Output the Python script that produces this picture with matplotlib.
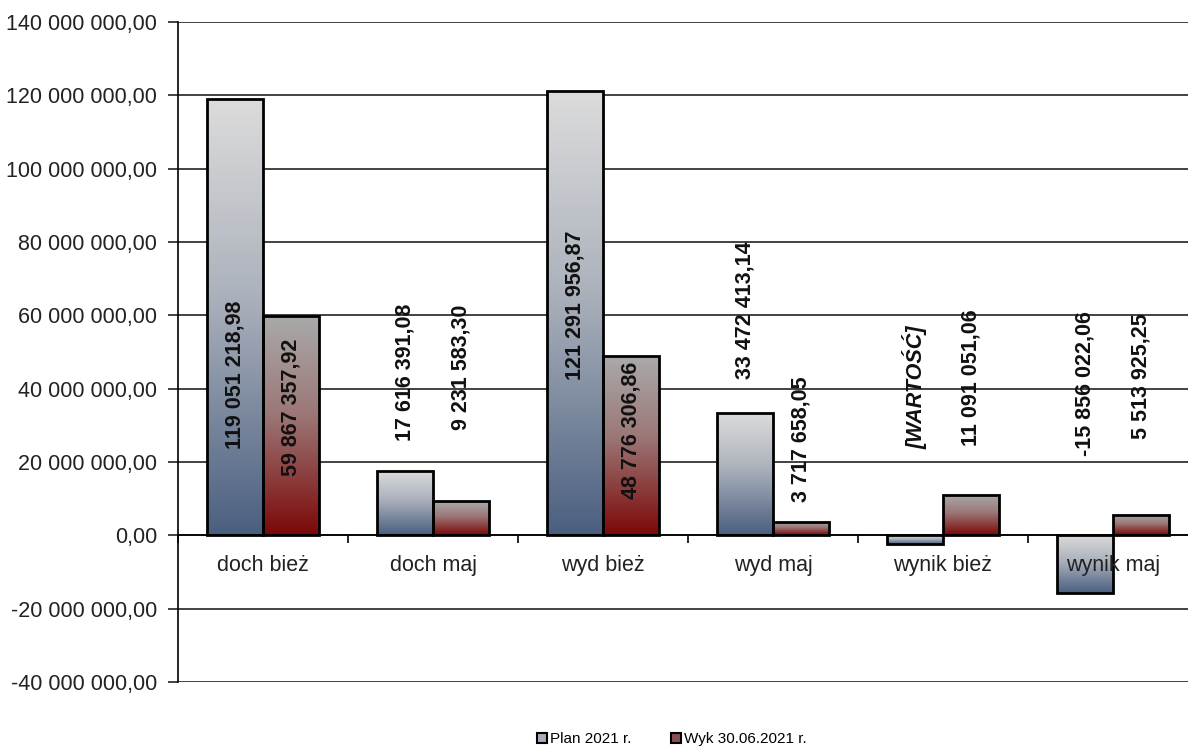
import numpy as np
import matplotlib
matplotlib.use("Agg")
import matplotlib.pyplot as plt
from matplotlib.colors import LinearSegmentedColormap
from matplotlib.patches import Rectangle
from matplotlib.ticker import FuncFormatter, FixedLocator
from matplotlib.transforms import offset_copy

# ---- data ----
categories = ["doch bież", "doch maj", "wyd bież", "wyd maj", "wynik bież", "wynik maj"]
series_names = ["Plan 2021 r.", "Wyk 30.06.2021 r."]
plan_values = [119051218.98, 17616391.08, 121291956.87, 33472413.14, -2240737.89, -15856022.06]
wyk_values = [59867357.92, 9231583.30, 48776306.86, 3717658.05, 11091051.06, 5513925.25]
# label text overrides (None -> formatted value)
plan_label_override = [None, None, None, None, "[WARTOŚĆ]", None]
wyk_label_override = [None, None, None, None, None, None]
# vertical centre of each value label (data units)
plan_label_y = [43.7e6, 44.5e6, 62.8e6, 61.4e6, 40.4e6, 41.5e6]
wyk_label_y = [35.0e6, 45.8e6, 28.7e6, 26.2e6, 43.1e6, 43.4e6]
y_ticks = list(range(-40_000_000, 140_000_001, 20_000_000))

FONT = ["Liberation Sans", "DejaVu Sans"]
plt.rcParams["font.family"] = FONT


def pl_fmt(v):
    s = f"{abs(v):,.2f}"
    intpart, dec = s.split(".")
    intpart = intpart.replace(",", " ")
    return ("-" if v < 0 else "") + intpart + "," + dec


fig = plt.figure(figsize=(11.88, 7.47), dpi=100)
W, H = 1188, 747
left, right, top, bottom = 178, 1198, 22, 682
ax = fig.add_axes([left / W, 1 - bottom / H, (right - left) / W, (bottom - top) / H])

cmap_plan = LinearSegmentedColormap.from_list(
    "plan", [(0, "#dcdcdc"), (0.45, "#acb2bc"), (1, "#4a5f80")])
cmap_wyk = LinearSegmentedColormap.from_list(
    "wyk", [(0, "#aaaaaa"), (0.45, "#9c7777"), (1, "#7c0808")])

bw = 0.33
x = np.arange(len(categories))
grad = np.linspace(0, 1, 256).reshape(-1, 1)

for offs, vals, cmap in [(-bw / 2, plan_values, cmap_plan), (bw / 2, wyk_values, cmap_wyk)]:
    bars = ax.bar(x + offs, vals, width=bw, facecolor="none", edgecolor="black",
                  linewidth=2.0, zorder=4)
    for b in bars:
        x0, y0 = b.get_x(), b.get_y()
        w, h = b.get_width(), b.get_height()
        ylo, yhi = min(y0, y0 + h), max(y0, y0 + h)
        im = ax.imshow(grad, cmap=cmap, aspect="auto", origin="upper",
                       extent=[x0, x0 + w, ylo, yhi], zorder=3, interpolation="bilinear")
        clip = Rectangle((x0, y0), w, h, transform=ax.transData)
        im.set_clip_path(clip)

# value labels
for offs, vals, overrides, ly in [(-bw / 2, plan_values, plan_label_override, plan_label_y),
                                   (bw / 2, wyk_values, wyk_label_override, wyk_label_y)]:
    for i, v in enumerate(vals):
        txt = overrides[i] if overrides[i] is not None else pl_fmt(v)
        style = "italic" if overrides[i] is not None else "normal"
        ax.text(x[i] + offs, ly[i], txt, rotation=90, ha="center", va="center",
                fontsize=15.5, fontweight="bold", fontstyle=style, color="#111111", zorder=6)

ax.set_xlim(-0.5, len(categories) - 0.5)
ax.set_ylim(y_ticks[0], y_ticks[-1])

# y axis
ax.yaxis.set_major_locator(FixedLocator(y_ticks))
ax.yaxis.set_major_formatter(FuncFormatter(lambda v, p: pl_fmt(v)))
ax.tick_params(axis="y", labelsize=15.5, length=7, width=1.2, pad=8, colors="#222222")
ax.yaxis.grid(True, color="#222222", linewidth=1.2, zorder=1)
ax.set_axisbelow(True)

# x axis at zero
ax.spines["bottom"].set_position(("data", 0))
ax.spines["bottom"].set_linewidth(1.2)
ax.spines["bottom"].set_zorder(5)
ax.spines["top"].set_visible(False)
ax.spines["right"].set_visible(False)
ax.spines["left"].set_linewidth(1.2)
ax.set_xticks(x)
ax.set_xticklabels([])
ax.set_xticks(np.arange(-0.5, len(categories) + 0.5, 1), minor=True)
ax.tick_params(axis="x", which="major", length=0)
ax.tick_params(axis="x", which="minor", length=6, width=1.2, direction="out")

# category labels drawn above the bars
cat_tr = offset_copy(ax.transData, fig=fig, x=0, y=-14, units="points")
for i, c in enumerate(categories):
    ax.text(x[i], 0, c, transform=cat_tr, ha="center", va="top", fontsize=15.5,
            color="#222222", zorder=7)

# legend
handles = [Rectangle((0, 0), 1, 1, facecolor="#a7adb7", edgecolor="black", linewidth=1.5),
           Rectangle((0, 0), 1, 1, facecolor="#8a5050", edgecolor="black", linewidth=1.5)]
fig.legend(handles, series_names, loc="center", bbox_to_anchor=(672 / W, 8 / H),
           ncol=2, frameon=False, fontsize=11, handlelength=0.65, handleheight=0.65,
           handletextpad=0.2, columnspacing=2.6, borderpad=0)

fig.savefig("out.png", dpi=100)
